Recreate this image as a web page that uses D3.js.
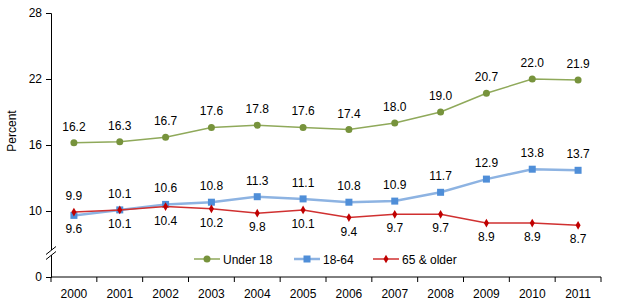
<!DOCTYPE html>
<html>
<head>
<meta charset="utf-8">
<script src="https://cdn.jsdelivr.net/npm/d3@7"></script>
<style>
  body { margin: 0; background: #fff; }
  svg text { font-family: "Liberation Sans", Arial, sans-serif; font-size: 12px; fill: #000; }
</style>
</head>
<body>
<div id="chart"></div>
<script>
// data
const years = ["2000","2001","2002","2003","2004","2005","2006","2007","2008","2009","2010","2011"];
const under18 = [16.2,16.3,16.7,17.6,17.8,17.6,17.4,18.0,19.0,20.7,22.0,21.9];
const adults = [9.6,10.1,10.6,10.8,11.3,11.1,10.8,10.9,11.7,12.9,13.8,13.7];
const older = [9.9,10.1,10.4,10.2,9.8,10.1,9.4,9.7,9.7,8.9,8.9,8.7];
const yTicks = [4,10,16,22,28]; // 4 is drawn as "0" below the axis break

const width = 619, height = 307;
const svg = d3.select("#chart").append("svg")
  .attr("width", width).attr("height", height);

const x = d3.scaleBand().domain(years).range([51, 601]);
const y = d3.scaleLinear().domain([4, 28]).range([277, 13]);

// y axis
const yAxis = svg.append("g")
  .attr("transform", "translate(51,0)")
  .call(d3.axisLeft(y).tickValues(yTicks).tickSize(5).tickPadding(4)
    .tickFormat(d => d === 4 ? "0" : d));
yAxis.select(".domain").attr("stroke", "#000");
yAxis.selectAll(".tick line").attr("stroke", "#000");
yAxis.selectAll("text").attr("font-size", 12).attr("font-family", null);

// x axis: ticks on category boundaries
const xAxis = svg.append("g").attr("transform", "translate(0,277)");
xAxis.append("line").attr("x1", 51).attr("x2", 601).attr("stroke", "#000");
const bounds = years.map(d => x(d)).concat([x(years[years.length - 1]) + x.bandwidth()]);
xAxis.selectAll("line.tk").data(bounds).enter().append("line")
  .attr("class", "tk")
  .attr("x1", d => d).attr("x2", d => d).attr("y1", 0).attr("y2", 5)
  .attr("stroke", "#000");
xAxis.selectAll("text").data(years).enter().append("text")
  .attr("x", d => x(d) + x.bandwidth() / 2).attr("y", 21)
  .attr("text-anchor", "middle").text(d => d);

// axis break
const breakY = 253;
svg.append("rect").attr("x", 48).attr("y", breakY - 3).attr("width", 6).attr("height", 5).attr("fill", "#fff");
[-2.5, 2.5].forEach(o => {
  svg.append("line")
    .attr("x1", 46).attr("y1", breakY + o + 4)
    .attr("x2", 56).attr("y2", breakY + o - 4)
    .attr("stroke", "#000").attr("stroke-width", 1);
});

// y title
svg.append("text")
  .attr("transform", "translate(16,131) rotate(-90)")
  .attr("text-anchor", "middle").text("Percent");

const cx = d => x(d) + x.bandwidth() / 2;

const series = [
  { name: "Under 18", values: under18, color: "#77933C", lineColor: "#8FA95A", width: 1.5, marker: "circle",
    labelPos: under18.map(() => "above") },
  { name: "18-64", values: adults, color: "#4F8ED8", lineColor: "#8DB3E2", width: 2.5, marker: "square",
    labelPos: adults.map((v, i) => i === 0 ? "below" : "above") },
  { name: "65 & older", values: older, color: "#C00000", lineColor: "#D03030", width: 1.5, marker: "diamond",
    labelPos: older.map((v, i) => i === 0 ? "above" : "below") }
];

function drawMarker(g, type, color, px, py) {
  if (type === "circle") {
    g.append("circle").attr("cx", px).attr("cy", py).attr("r", 3.5).attr("fill", color);
  } else if (type === "square") {
    g.append("rect").attr("x", px - 3.5).attr("y", py - 3.5).attr("width", 7).attr("height", 7).attr("fill", color);
  } else {
    g.append("path").attr("d", d3.symbol(d3.symbolDiamond, 22)())
      .attr("transform", `translate(${px},${py})`).attr("fill", color);
  }
}

const line = d3.line().x((d, i) => cx(years[i])).y(d => y(d));

series.forEach(s => {
  const g = svg.append("g");
  g.append("path").datum(s.values).attr("d", line)
    .attr("fill", "none").attr("stroke", s.lineColor).attr("stroke-width", s.width);
  s.values.forEach((v, i) => drawMarker(g, s.marker, s.color, cx(years[i]), y(v)));
  g.selectAll("text").data(s.values).enter().append("text")
    .attr("x", (d, i) => cx(years[i]))
    .attr("y", (d, i) => s.labelPos[i] === "above" ? y(d) - 12 : y(d) + 18)
    .attr("text-anchor", "middle")
    .text(d => d.toFixed(1));
});

// legend
const legend = svg.append("g").attr("transform", "translate(0,259)");
const legendX = [194, 294, 373];
series.forEach((s, i) => {
  const lx = legendX[i];
  legend.append("line").attr("x1", lx).attr("x2", lx + 26)
    .attr("stroke", s.lineColor).attr("stroke-width", s.width);
  drawMarker(legend, s.marker, s.color, lx + 13, 0);
  legend.append("text").attr("x", lx + 29).attr("y", 4.5).text(s.name);
});
</script>
</body>
</html>
